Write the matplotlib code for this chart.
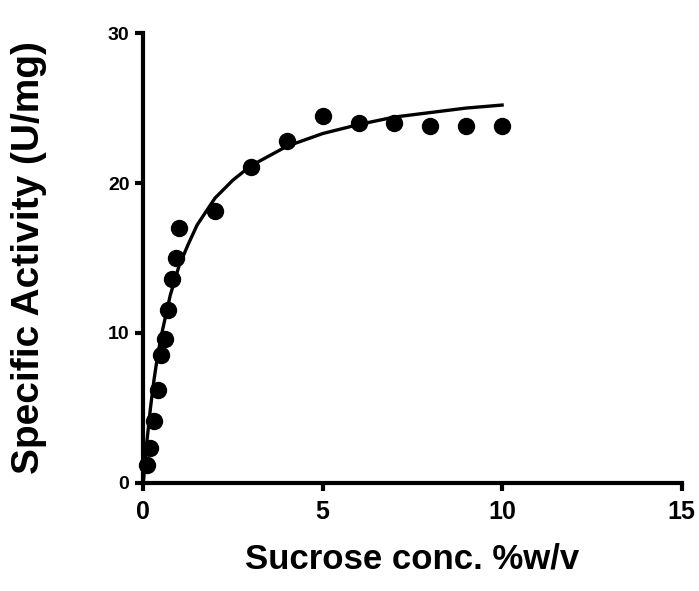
import matplotlib.pyplot as plt

# measured points
sucrose = [0.1, 0.2, 0.3, 0.4, 0.5, 0.6, 0.7, 0.8, 0.9, 1.0, 2, 3, 4, 5, 6, 7, 8, 9, 10]
activity = [1.2, 2.3, 4.1, 6.2, 8.5, 9.6, 11.5, 13.6, 15.0, 17.0, 18.1, 21.1, 22.8, 24.5, 24.0, 24.0, 23.8, 23.8, 23.8]

# fitted curve
fit_x = [0, 0.1, 0.2, 0.3, 0.4, 0.5, 0.75, 1, 1.25, 1.5, 2, 2.5, 3, 4, 5, 6, 7, 8, 9, 10]
fit_y = [0, 2.75, 5.0, 6.9, 8.5, 9.8, 12.5, 14.5, 15.9, 17.2, 19.0, 20.2, 21.15, 22.45, 23.3, 23.9, 24.4, 24.7, 25.0, 25.2]

plt.rcParams['font.family'] = ['Liberation Sans', 'DejaVu Sans']

fig = plt.figure(figsize=(6.99, 5.91), dpi=100)
ax = fig.add_axes([0.205, 0.183, 0.77, 0.761])

ax.plot(fit_x, fit_y, color='black', lw=2.4, zorder=2)
ax.plot(sucrose, activity, 'o', color='black', ms=11.5, zorder=3, clip_on=False)

ax.set_xlim(0, 15)
ax.set_ylim(0, 30)
ax.set_xticks([0, 5, 10, 15])
ax.set_yticks([0, 10, 20, 30])

for side in ['top', 'right']:
    ax.spines[side].set_visible(False)
for side in ['left', 'bottom']:
    ax.spines[side].set_linewidth(3)

ax.tick_params(axis='both', direction='out', length=6, width=3, color='black')
ax.tick_params(axis='x', labelsize=18, pad=6)
ax.tick_params(axis='y', labelsize=14, pad=4)
for lbl in ax.get_xticklabels() + ax.get_yticklabels():
    lbl.set_fontweight('bold')

ax.set_xlabel('Sucrose conc. %w/v', fontsize=25, fontweight='bold', labelpad=14)
ax.set_ylabel('Specific Activity (U/mg)', fontsize=28, fontweight='bold', labelpad=44)

plt.savefig('out.png')
